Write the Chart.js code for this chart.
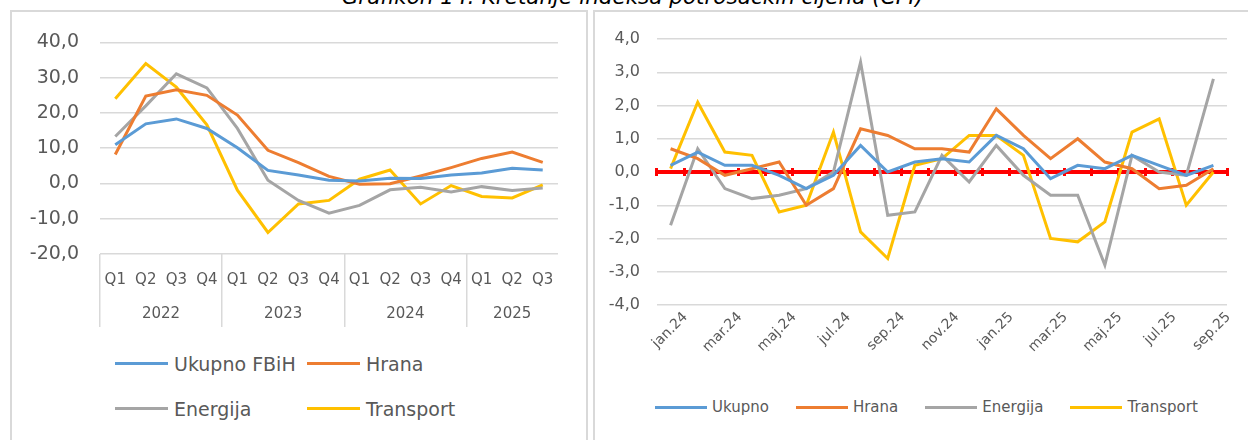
<!DOCTYPE html>
<html>
<head>
<meta charset="utf-8">
<script src="https://cdn.jsdelivr.net/npm/chart.js@4.4.1/dist/chart.umd.min.js"></script>
<style>
  body { margin: 0; width: 1248px; height: 440px; overflow: hidden; background: #fff; position: relative; font-family: "DejaVu Sans", sans-serif; }
  .title { position: absolute; left: 0; top: -15px; width: 1265px; text-align: center; font-style: italic; font-size: 21.5px; line-height: 24px; color: #000; white-space: nowrap; }
  .box { position: absolute; border: 2px solid #d9d9d9; box-sizing: border-box; }
  #boxL { left: 10px; top: 10px; width: 578px; height: 460px; }
  #boxR { left: 593px; top: 10px; width: 700px; height: 460px; }
  #cL { position: absolute; left: 10px; top: 10px; }
  #cR { position: absolute; left: 593px; top: 10px; }
  .leg { position: absolute; color: #595959; white-space: nowrap; }
  .leg .item { display: flex; align-items: center; }
  .leg .sw { display: inline-block; height: 3px; }
  #legL { left: 115px; top: 341px; display: grid; grid-template-columns: 192px auto; grid-auto-rows: 45px; align-items: center; font-size: 19px; }
  #legL .sw { width: 53px; margin-right: 6px; }
  #legR { left: 655px; top: 396px; height: 22px; display: flex; align-items: center; column-gap: 27px; font-size: 15px; }
  #legR .sw { width: 52px; margin-right: 5px; }
</style>
</head>
<body>
<div class="title">Grafikon 14: Kretanje indeksa potrošačkih cijena (CPI)</div>
<div class="box" id="boxL"></div>
<div class="box" id="boxR"></div>
<canvas id="cL" width="577" height="330"></canvas>
<div class="leg" id="legL"></div>
<canvas id="cR" width="655" height="370"></canvas>
<div class="leg" id="legR"></div>
<script>
// kvartalni podaci (lijevi grafikon)
const quarters = ['Q1', 'Q2', 'Q3', 'Q4', 'Q1', 'Q2', 'Q3', 'Q4', 'Q1', 'Q2', 'Q3', 'Q4', 'Q1', 'Q2', 'Q3'];
const years = ['2022', '2023', '2024', '2025'];
const qUkupno = [11.0, 16.9, 18.3, 15.6, 10.1, 3.7, 2.4, 0.9, 0.7, 1.5, 1.4, 2.4, 3.0, 4.3, 3.8];
const qHrana = [8.2, 24.8, 26.6, 25.0, 19.4, 9.4, 5.9, 2.0, -0.2, -0.1, 2.1, 4.5, 7.1, 8.9, 6.0];
const qEnergija = [13.3, 22.0, 31.1, 27.1, 15.6, 0.9, -4.8, -8.4, -6.2, -1.8, -1.1, -2.4, -0.9, -2.0, -1.3];
const qTransport = [24.0, 34.0, 27.3, 16.6, -1.9, -13.9, -5.8, -4.8, 1.2, 3.8, -5.8, -0.6, -3.7, -4.1, -0.4];

// mjesecni podaci (desni grafikon)
const months = ['jan.24', 'feb.24', 'mar.24', 'apr.24', 'maj.24', 'jun.24', 'jul.24', 'aug.24', 'sep.24', 'okt.24', 'nov.24', 'dec.24',
  'jan.25', 'feb.25', 'mar.25', 'apr.25', 'maj.25', 'jun.25', 'jul.25', 'aug.25', 'sep.25'];
const mUkupno = [0.2, 0.6, 0.2, 0.2, -0.1, -0.5, -0.1, 0.8, 0.0, 0.3, 0.4, 0.3, 1.1, 0.7, -0.2, 0.2, 0.1, 0.5, 0.2, -0.1, 0.2];
const mHrana = [0.7, 0.4, -0.1, 0.1, 0.3, -1.0, -0.5, 1.3, 1.1, 0.7, 0.7, 0.6, 1.9, 1.1, 0.4, 1.0, 0.3, 0.1, -0.5, -0.4, 0.1];
const mEnergija = [-1.6, 0.7, -0.5, -0.8, -0.7, -0.5, 0.0, 3.3, -1.3, -1.2, 0.5, -0.3, 0.8, -0.1, -0.7, -0.7, -2.8, 0.5, 0.0, -0.1, 2.8];
const mTransport = [0.1, 2.1, 0.6, 0.5, -1.2, -1.0, 1.2, -1.8, -2.6, 0.2, 0.4, 1.1, 1.1, 0.5, -2.0, -2.1, -1.5, 1.2, 1.6, -1.0, 0.0];

const BLUE = '#5B9BD5', ORANGE = '#ED7D31', GRAY = '#A5A5A5', YELLOW = '#FFC000';
const TXT = '#595959', GRID = '#d9d9d9';

Chart.defaults.font.family = '"DejaVu Sans", sans-serif';
Chart.defaults.color = TXT;

const comma = v => v.toFixed(1).replace('.', ',');

// granice godina i sredine grupa
const yearStarts = quarters.map((q, i) => q === 'Q1' ? i : -1).filter(i => i >= 0);
const yearEdges = yearStarts.concat([quarters.length]);
const yearCenters = yearStarts.map((s, k) => (s + yearEdges[k + 1] - 1) / 2);

function ds(label, data, color) {
  return { label: label, data: data, borderColor: color, backgroundColor: color, borderWidth: 3,
    pointRadius: 0, tension: 0, xAxisID: 'x', yAxisID: 'y' };
}

function htmlLegend(chart, el) {
  chart.data.datasets.forEach(d => {
    const item = document.createElement('div');
    item.className = 'item';
    item.innerHTML = '<span class="sw" style="background:' + d.borderColor + '"></span><span>' + d.label + '</span>';
    el.appendChild(item);
  });
}

const chartL = new Chart(document.getElementById('cL'), {
  type: 'line',
  data: {
    labels: quarters,
    datasets: [
      ds('Ukupno FBiH', qUkupno, BLUE),
      ds('Hrana', qHrana, ORANGE),
      ds('Energija', qEnergija, GRAY),
      ds('Transport', qTransport, YELLOW)
    ]
  },
  options: {
    responsive: false,
    animation: false,
    layout: { padding: { left: 0, right: 29, top: 29, bottom: 17 } },
    scales: {
      x: {
        offset: true,
        grid: {
          offset: true, drawOnChartArea: false, tickLength: 73, lineWidth: 1.5,
          color: ctx => yearEdges.includes(ctx.index) ? GRID : 'rgba(0,0,0,0)'
        },
        border: { display: false },
        ticks: { padding: -56, autoSkip: false, maxRotation: 0, font: { size: 15 } },
        afterFit: s => { s.height = 35; }
      },
      yr: {
        type: 'linear', axis: 'x', position: 'bottom', min: -0.5, max: 14.5,
        grid: { display: false, drawTicks: false },
        border: { display: false },
        afterBuildTicks: s => { s.ticks = yearCenters.map(v => ({ value: v })); },
        ticks: { padding: 16, autoSkip: false, maxRotation: 0, font: { size: 15 }, callback: (v, i) => years[i] },
        afterFit: s => { s.height = 34; }
      },
      y: {
        min: -20, max: 40,
        grid: { color: GRID, lineWidth: 1.5, drawTicks: false },
        border: { display: false },
        ticks: { stepSize: 10, padding: 21, font: { size: 19 }, callback: v => comma(v) },
        afterFit: s => { s.width = 90; }
      }
    },
    plugins: { legend: { display: false }, tooltip: { enabled: false } }
  }
});
htmlLegend(chartL, document.getElementById('legL'));

const chartR = new Chart(document.getElementById('cR'), {
  type: 'line',
  data: {
    labels: months,
    datasets: [
      ds('Ukupno', mUkupno, BLUE),
      ds('Hrana', mHrana, ORANGE),
      ds('Energija', mEnergija, GRAY),
      ds('Transport', mTransport, YELLOW)
    ]
  },
  options: {
    responsive: false,
    animation: false,
    layout: { padding: { left: 0, right: 21, top: 29, bottom: 0 } },
    scales: {
      x: {
        offset: true,
        grid: { display: false },
        border: { display: false },
        ticks: {
          autoSkip: false, minRotation: 45, maxRotation: 45, padding: -4, labelOffset: 15, font: { size: 14 },
          callback: (v, i) => i % 2 === 0 ? months[i] : ''
        },
        afterFit: s => { s.height = 75; }
      },
      // crvena os na nuli, oznake idu gore i dolje
      zero: {
        type: 'category', axis: 'x', labels: months, position: { y: 0 }, offset: true,
        ticks: { display: false },
        grid: { offset: true, drawOnChartArea: false, color: '#ff0000', lineWidth: 3, tickLength: -6 },
        border: { color: '#ff0000', width: 4 }
      },
      zeroDown: {
        type: 'category', axis: 'x', labels: months, position: { y: 0 }, offset: true,
        ticks: { display: false },
        grid: { offset: true, drawOnChartArea: false, color: '#ff0000', lineWidth: 3, tickLength: 4 },
        border: { display: false }
      },
      y: {
        min: -4, max: 4,
        grid: { color: GRID, lineWidth: 1.5, drawTicks: false },
        border: { display: false },
        ticks: { stepSize: 1, padding: 17, font: { size: 16 }, callback: v => comma(v) },
        afterFit: s => { s.width = 64; }
      }
    },
    plugins: { legend: { display: false }, tooltip: { enabled: false } }
  }
});
htmlLegend(chartR, document.getElementById('legR'));
</script>
</body>
</html>
